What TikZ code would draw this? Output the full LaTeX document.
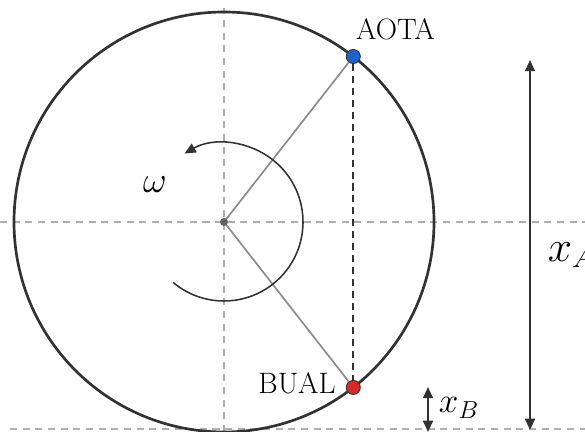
\RequirePackage{fix-cm}
\documentclass[tikz,border=0pt]{standalone}
\usepackage{fontspec}
\usetikzlibrary{arrows.meta, positioning, calc}
\definecolor{rimgray}{RGB}{50, 50, 50}
\definecolor{axisgray}{RGB}{175, 175, 175}
\definecolor{spokegray}{RGB}{140, 140, 140}
\definecolor{aotablue}{RGB}{30, 100, 200}
\definecolor{bualred}{RGB}{215, 40, 40}

\begin{document}
\begin{tikzpicture}[
  x=0.025cm, y=0.025cm,
  axis/.style={axisgray, line width=1.1pt, dash pattern=on 5pt off 4pt},
  spoke/.style={spokegray, line width=1.2pt},
  rim/.style={rimgray, line width=1.9pt},
  chord/.style={rimgray, line width=1.4pt, dash pattern=on 5pt off 3.5pt},
  dimarrow/.style={rimgray, line width=1.5pt, {Triangle[length=8pt,width=7pt]}-{Triangle[length=8pt,width=7pt]}},
  dot/.style={circle, draw=rimgray, line width=0.6pt, minimum size=10pt, inner sep=0pt},
  lbl/.style={font=\fontsize{21}{25}\selectfont, inner sep=2pt}
]
  \useasboundingbox (0,0) rectangle (585,432);

  % axes
  \coordinate (O) at (224,210);
  \draw[axis] (0,210) -- (585,210);
  \draw[axis] (224,0) -- (224,424);
  \draw[axis] (10,3) -- (585,3);

  % wheel
  \draw[rim] (O) circle (210);
  \node[dot, fill=aotablue] (aota) at ($(O)+(52:210)$) {};
  \node[dot, fill=bualred] (bual) at ($(O)+(-52:210)$) {};
  \draw[spoke] (O) -- (aota);
  \draw[spoke] (O) -- (bual);
  \draw[chord] (aota) -- (bual);
  \fill[spokegray!70!black] (O) circle (4);

  % rotation
  \draw[rimgray, line width=1.1pt, -{Triangle[length=8pt,width=7pt]}] ($(O)+(-130:79)$) arc (-130:120:79);
  \node[font=\fontsize{26}{30}\selectfont] (omega) at (155,247) {$\omega$};

  % labels
  \node[lbl, above right=6pt and -4pt of aota] (aotalbl) {AOTA};
  \node[lbl, left=5pt of bual, yshift=3pt] (buallbl) {BUAL};

  % heights
  \coordinate (xAtop) at (530,372);
  \coordinate (xAbot) at (530,2);
  \draw[dimarrow] (xAtop) -- (xAbot);
  \node[font=\fontsize{31}{36}\selectfont, anchor=west] (xA) at (543,177) {$x_A$};
  \coordinate (xBtop) at (428,45);
  \coordinate (xBbot) at (428,0);
  \draw[dimarrow] (xBtop) -- (xBbot);
  \node[font=\fontsize{25}{29}\selectfont, anchor=west] (xB) at (434,24) {$x_B$};
\end{tikzpicture}
\end{document}
